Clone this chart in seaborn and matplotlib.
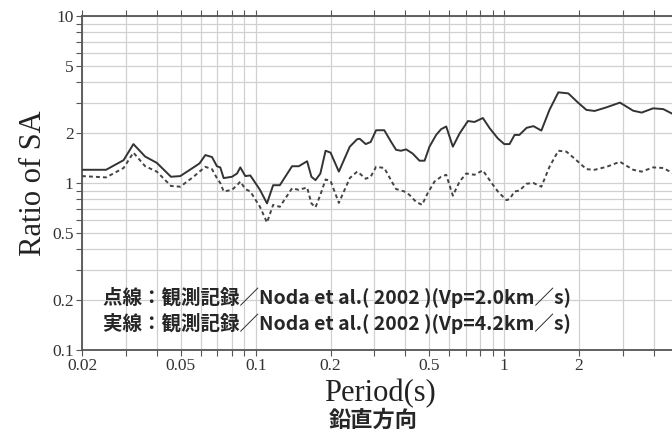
import numpy as np
import pandas as pd
import matplotlib
matplotlib.use('Agg')
import matplotlib.pyplot as plt
import seaborn as sns
from matplotlib.ticker import LogLocator, NullFormatter, FixedLocator, FixedFormatter

# period (s) and ratio of SA
solid_period = [0.020, 0.025, 0.0294, 0.0322, 0.0359, 0.040, 0.0456, 0.0497, 0.0562, 0.0594,
                0.0627, 0.0667, 0.0698, 0.0720, 0.0743, 0.0803, 0.0841, 0.0867, 0.0908, 0.0951,
                0.104, 0.111, 0.1175, 0.125, 0.140, 0.149, 0.161, 0.1675, 0.174, 0.182,
                0.191, 0.200, 0.216, 0.239, 0.256, 0.262, 0.277, 0.290, 0.305, 0.329,
                0.350, 0.367, 0.384, 0.403, 0.428, 0.456, 0.478, 0.500, 0.532, 0.557,
                0.584, 0.621, 0.661, 0.714, 0.759, 0.820, 0.873, 0.942, 1.00, 1.05,
                1.10, 1.15, 1.23, 1.31, 1.41, 1.52, 1.65, 1.81, 1.98, 2.14,
                2.31, 2.58, 2.92, 3.30, 3.57, 3.97, 4.36, 4.79, 5.0]
solid_ratio = [1.20, 1.20, 1.37, 1.71, 1.44, 1.32, 1.09, 1.10, 1.24, 1.31,
               1.47, 1.43, 1.26, 1.24, 1.07, 1.09, 1.14, 1.24, 1.10, 1.11,
               0.91, 0.755, 0.97, 0.97, 1.26, 1.26, 1.35, 1.09, 1.04, 1.14,
               1.56, 1.52, 1.17, 1.65, 1.83, 1.84, 1.71, 1.76, 2.07, 2.07,
               1.77, 1.58, 1.56, 1.59, 1.50, 1.36, 1.36, 1.65, 1.94, 2.10,
               2.18, 1.65, 1.98, 2.35, 2.32, 2.45, 2.13, 1.85, 1.71, 1.71,
               1.94, 1.94, 2.14, 2.19, 2.06, 2.74, 3.49, 3.44, 3.03, 2.74,
               2.70, 2.84, 3.03, 2.71, 2.64, 2.80, 2.77, 2.58, 2.52]

dot_period = [0.020, 0.025, 0.0294, 0.0322, 0.0359, 0.040, 0.0456, 0.0497, 0.0562, 0.0594,
              0.0627, 0.0667, 0.0698, 0.0720, 0.0743, 0.0803, 0.0841, 0.0867, 0.0908, 0.0951,
              0.104, 0.111, 0.1175, 0.125, 0.140, 0.149, 0.161, 0.1675, 0.174, 0.182,
              0.191, 0.200, 0.216, 0.239, 0.256, 0.262, 0.277, 0.290, 0.305, 0.329,
              0.350, 0.367, 0.396, 0.415, 0.442, 0.467, 0.492, 0.524, 0.557, 0.584,
              0.621, 0.661, 0.703, 0.759, 0.820, 0.873, 0.942, 1.02, 1.05, 1.10,
              1.15, 1.23, 1.31, 1.41, 1.52, 1.65, 1.78, 1.95, 2.14, 2.31,
              2.58, 2.92, 3.30, 3.57, 3.97, 4.36, 4.79, 5.0]
dot_ratio = [1.10, 1.08, 1.23, 1.52, 1.26, 1.17, 0.96, 0.95, 1.09, 1.17,
             1.25, 1.21, 1.07, 1.00, 0.89, 0.91, 0.97, 1.02, 0.92, 0.89,
             0.72, 0.58, 0.74, 0.72, 0.93, 0.91, 0.94, 0.755, 0.715, 0.85,
             1.05, 1.03, 0.76, 1.07, 1.17, 1.14, 1.06, 1.09, 1.25, 1.23,
             1.04, 0.92, 0.89, 0.85, 0.77, 0.74, 0.87, 1.02, 1.09, 1.12,
             0.84, 1.02, 1.14, 1.12, 1.19, 1.04, 0.89, 0.79, 0.80, 0.89,
             0.90, 0.99, 1.00, 0.95, 1.25, 1.56, 1.54, 1.37, 1.21, 1.20,
             1.25, 1.34, 1.20, 1.17, 1.24, 1.23, 1.14, 1.12]

x_ticks = [0.02, 0.05, 0.1, 0.2, 0.5, 1, 2, 5]
x_ticklabels = ['0.02', '0.05', '0.1', '0.2', '0.5', '1', '2', '5']
y_ticks = [0.1, 0.2, 0.5, 1, 2, 5, 10]
y_ticklabels = ['0.1', '0.2', '0.5', '1', '2', '5', '10']

note_dotted = '点線：観測記録／Noda et al.( 2002 )(Vp=2.0km／s)'
note_solid = '実線：観測記録／Noda et al.( 2002 )(Vp=4.2km／s)'

sns.set_style('ticks')
plt.rcParams['font.family'] = ['Liberation Serif', 'DejaVu Serif']
plt.rcParams['axes.unicode_minus'] = False

fig = plt.figure(figsize=(6.72, 4.33), dpi=100)
ax = fig.add_axes([82 / 672, 1 - 350 / 433, 596 / 672, 334 / 433])

solid_df = pd.DataFrame({'period': solid_period, 'ratio': solid_ratio})
dot_df = pd.DataFrame({'period': dot_period, 'ratio': dot_ratio})
sns.lineplot(data=solid_df, x='period', y='ratio', ax=ax, color='#333333', lw=1.4,
             estimator=None, sort=False, zorder=3)
sns.lineplot(data=dot_df, x='period', y='ratio', ax=ax, color='#444444', lw=1.4,
             linestyle=(0, (2, 1.6)), estimator=None, sort=False, zorder=3)

ax.set_xscale('log')
ax.set_yscale('log')
ax.set_xlim(0.02, 5)
ax.set_ylim(0.1, 10)

ax.xaxis.set_major_locator(FixedLocator(x_ticks))
ax.xaxis.set_major_formatter(FixedFormatter(x_ticklabels))
ax.yaxis.set_major_locator(FixedLocator(y_ticks))
ax.yaxis.set_major_formatter(FixedFormatter(y_ticklabels))
ax.xaxis.set_minor_locator(LogLocator(base=10, subs=np.arange(1, 10), numticks=20))
ax.yaxis.set_minor_locator(LogLocator(base=10, subs=np.arange(1, 10), numticks=20))
ax.xaxis.set_minor_formatter(NullFormatter())
ax.yaxis.set_minor_formatter(NullFormatter())

ax.grid(which='both', color='#d0d0d0', lw=0.9, zorder=0)
ax.tick_params(which='both', direction='out', length=4, width=0.8, color='#555555',
               top=True, right=True, labelsize=12.5, labelcolor='#333333', pad=2)
for sp in ax.spines.values():
    sp.set_color('#555555')
    sp.set_linewidth(1.3)

ax.set_xlabel('Period(s)', fontsize=22, labelpad=3, color='#222222')
ax.set_ylabel('Ratio of SA', fontsize=22, labelpad=3, color='#222222')

fig.text(103 / 672, 1 - 298 / 433, note_dotted, family=['Noto Sans CJK JP', 'DejaVu Sans'],
         fontweight='bold', fontsize=14.0, ha='left', va='center')
fig.text(103 / 672, 1 - 323 / 433, note_solid, family=['Noto Sans CJK JP', 'DejaVu Sans'],
         fontweight='bold', fontsize=14.0, ha='left', va='center')
fig.text(373 / 672, 1 - 420 / 433, '鉛直方向', family=['Noto Sans CJK JP', 'DejaVu Sans'],
         fontweight='bold', fontsize=16, ha='center', va='center')

fig.savefig('out.png', dpi=100)
